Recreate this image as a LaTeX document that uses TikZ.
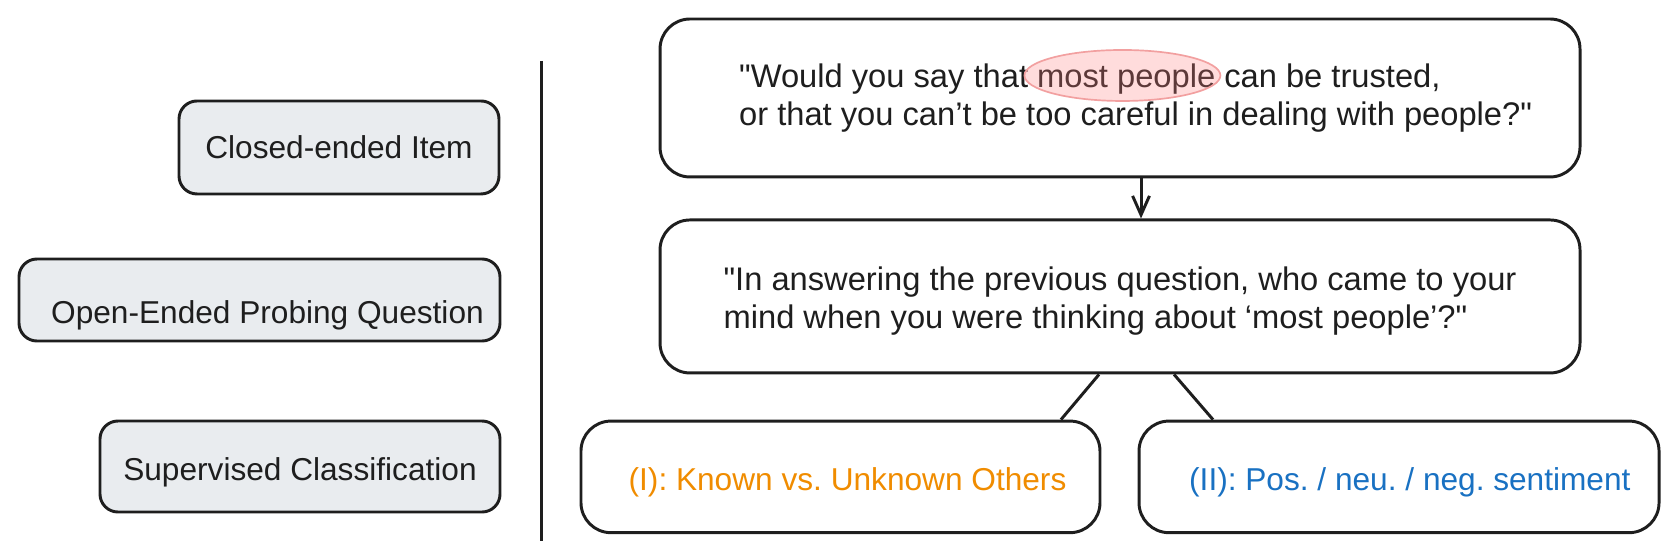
\documentclass[tikz,border=0pt]{standalone}
\usepackage{fontspec}
\setmainfont{Liberation Sans}[Ligatures=TeXOff]
\usepackage{xcolor}
\usetikzlibrary{arrows.meta}
\definecolor{ink}{HTML}{1E1E1E}
\definecolor{tagfill}{HTML}{E9ECEF}
\definecolor{known}{HTML}{F08C00}
\definecolor{tone}{HTML}{1971C2}
\definecolor{mark}{HTML}{FF8080}
\definecolor{markline}{HTML}{F2A0A0}
\frenchspacing

\begin{document}
\begin{tikzpicture}[>={Straight Barb[length=9pt,width=8pt]},
every node/.style={font=\fontsize{15}{17.5}\selectfont,text=ink},
tag/.style={draw=ink,line width=1.4pt,fill=tagfill,rounded corners=0.3cm},
card/.style={draw=ink,line width=1.4pt,rounded corners=0.5cm},
big/.style={font=\fontsize{15.5}{18}\selectfont,align=left}]
\useasboundingbox(0,0)rectangle(28,9.333);
\node[tag,minimum width=5.333cm,minimum height=1.55cm](closed)at(5.65,6.875){Closed-ended Item};
\node[tag,minimum width=8.017cm,minimum height=1.367cm,
label={[xshift=0.133cm,yshift=-0.26cm]center:Open-Ended Probing Question}](open)at(4.325,4.333){};
\node[tag,minimum width=6.667cm,minimum height=1.517cm,
label={[yshift=-0.09cm]center:Supervised Classification}](sup)at(5,1.558){};
\draw[line width=1.4pt,ink](9.017,8.317)--(9.017,0.317);
\node[card,minimum width=15.333cm,minimum height=2.633cm,
label={[big,xshift=0.26cm]center:"Would you say that most people can be trusted,\\or that you can’t be too careful in dealing with people?"}](item)at(18.667,7.7){};
\draw[markline,fill=mark,fill opacity=0.28,line width=0.8pt]([shift={(0.04,0.375)}]item.center)ellipse[x radius=1.633cm,y radius=0.425cm];
\node[card,minimum width=15.333cm,minimum height=2.55cm,
label={[big,yshift=-0.07cm]center:"In answering the previous question, who came to your\\mind when you were thinking about ‘most people’?"}](probe)at(18.667,4.392){};
\node[card,minimum width=8.65cm,minimum height=1.86cm,
label={[text=known,xshift=0.117cm,yshift=-0.09cm]center:(I): Known vs. Unknown Others}](known)at(14.008,1.385){};
\node[card,minimum width=8.667cm,minimum height=1.86cm,
label={[text=tone,xshift=0.18cm,yshift=-0.09cm]center:(II): Pos. / neu. / neg. sentiment}](tone)at(23.317,1.385){};
\draw[->,line width=1.4pt,ink]([xshift=0.35cm]item.south)--([xshift=0.35cm]probe.north);
\draw[line width=1.4pt,ink]([xshift=-0.35cm]probe.south)--([xshift=3.675cm]known.north);
\draw[line width=1.4pt,ink]([xshift=0.9cm]probe.south)--([xshift=-3.1cm]tone.north);
\end{tikzpicture}
\end{document}
